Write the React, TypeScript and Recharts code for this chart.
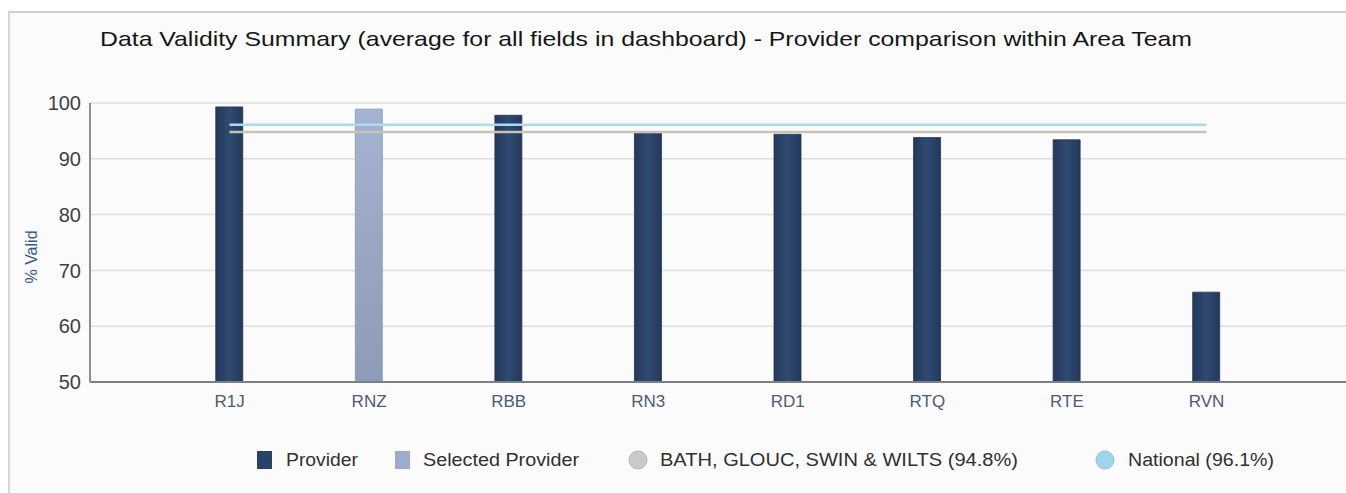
import React from 'react';
import { ComposedChart, Bar, Line, XAxis, YAxis, CartesianGrid, Cell } from 'recharts';

const categories = ['R1J', 'RNZ', 'RBB', 'RN3', 'RD1', 'RTQ', 'RTE', 'RVN'];
const validity = [99.3, 98.9, 97.8, 94.6, 94.4, 93.8, 93.4, 66.1];
const selectedProvider = 'RNZ';
const areaAverage = 94.8;
const nationalAverage = 96.1;
const yTicks = [50, 60, 70, 80, 90, 100];
const legendLabels = ['Provider', 'Selected Provider', 'BATH, GLOUC, SWIN & WILTS (94.8%)', 'National (96.1%)'];

const data = categories.map((name, i) => ({
  name,
  value: validity[i],
  area: areaAverage,
  national: nationalAverage,
}));

const FONT = '"Liberation Sans", Arial, sans-serif';
const W = 1346;
const H = 493;

export default function App() {
  return (
    <div style={{ position: 'absolute', left: 0, top: 0, width: W, height: H, background: '#ffffff', fontFamily: FONT }}>
      <svg width={W} height={H} style={{ position: 'absolute', left: 0, top: 0 }}>
        <rect x={9} y={12} width={W - 9} height={H - 12} fill="#fbfbfb" />
        <line x1={8} y1={12} x2={W} y2={12} stroke="#cfcfcf" strokeWidth={2} />
        <line x1={9} y1={12} x2={9} y2={H} stroke="#d6d6d6" strokeWidth={2} />
      </svg>
      <div style={{ position: 'absolute', left: 0, top: 0 }}>
        <ComposedChart
          width={W}
          height={H}
          data={data}
          margin={{ top: 103, right: 0, bottom: 81, left: 0 }}
        >
          <defs>
            <linearGradient id="provGrad" x1="0" y1="0" x2="1" y2="0">
              <stop offset="0%" stopColor="#24385a" />
              <stop offset="50%" stopColor="#2f4a72" />
              <stop offset="100%" stopColor="#24385a" />
            </linearGradient>
            <linearGradient id="selGrad" x1="0" y1="0" x2="0" y2="1">
              <stop offset="0%" stopColor="#a3b4d0" />
              <stop offset="100%" stopColor="#8c9bb6" />
            </linearGradient>
          </defs>
          <CartesianGrid vertical={false} stroke="#dedede" strokeWidth={1.5} />
          <XAxis
            dataKey="name"
            type="category"
            padding={{ left: 69.75, right: 69.75 }}
            height={30}
            tickLine={false}
            tickSize={0}
            tickMargin={13}
            axisLine={{ stroke: '#7a7f88', strokeWidth: 2 }}
            tick={{ fill: '#4b5b78', fontSize: 17, fontFamily: FONT }}
            interval={0}
          />
          <YAxis
            type="number"
            domain={[50, 100]}
            ticks={yTicks}
            width={90}
            tickLine={false}
            tickSize={0}
            tickMargin={9}
            axisLine={{ stroke: '#8a8f96', strokeWidth: 2 }}
            tick={{ fill: '#404040', fontSize: 20, fontFamily: FONT }}
          />
          <Bar dataKey="value" barSize={27} isAnimationActive={false}>
            {data.map((d) => (
              <Cell
                key={d.name}
                fill={d.name === selectedProvider ? 'url(#selGrad)' : 'url(#provGrad)'}
                stroke={d.name === selectedProvider ? '#8797b2' : '#22344f'}
                strokeWidth={0.8}
              />
            ))}
          </Bar>
          <Line
            dataKey="national"
            type="linear"
            stroke="#addaf0"
            strokeWidth={2.6}
            dot={false}
            activeDot={false}
            isAnimationActive={false}
          />
          <Line
            dataKey="area"
            type="linear"
            stroke="#c6c4b4"
            strokeWidth={2.6}
            dot={false}
            activeDot={false}
            isAnimationActive={false}
          />
        </ComposedChart>
      </div>
      <svg width={W} height={H} style={{ position: 'absolute', left: 0, top: 0, pointerEvents: 'none' }}>
        <text
          x={100}
          y={46}
          fontSize={21}
          fill="#161616"
          fontFamily={FONT}
          textLength={1092}
          lengthAdjust="spacingAndGlyphs"
        >
          Data Validity Summary (average for all fields in dashboard) - Provider comparison within Area Team
        </text>
        <text
          x={31}
          y={257}
          fontSize={16}
          fill="#365890"
          fontFamily={FONT}
          textAnchor="middle"
          dominantBaseline="central"
          transform="rotate(-90 31 257)"
        >
          % Valid
        </text>
        <g fontFamily={FONT} fontSize={18} fill="#303030">
          <rect x={257} y={451} width={15} height={18} fill="#2a4168" />
          <text x={286} y={466} textLength={72} lengthAdjust="spacingAndGlyphs">{legendLabels[0]}</text>
          <rect x={395} y={451} width={15} height={18} fill="#9cadc9" />
          <text x={423} y={466} textLength={156} lengthAdjust="spacingAndGlyphs">{legendLabels[1]}</text>
          <circle cx={638} cy={460} r={9} fill="#c9c9c9" stroke="#b5b5b5" strokeWidth={1} />
          <text x={660} y={466} textLength={358} lengthAdjust="spacingAndGlyphs">{legendLabels[2]}</text>
          <circle cx={1105} cy={460} r={9} fill="#a3d3ec" stroke="#90c3de" strokeWidth={1} />
          <text x={1128} y={466} textLength={146} lengthAdjust="spacingAndGlyphs">{legendLabels[3]}</text>
        </g>
      </svg>
    </div>
  );
}
